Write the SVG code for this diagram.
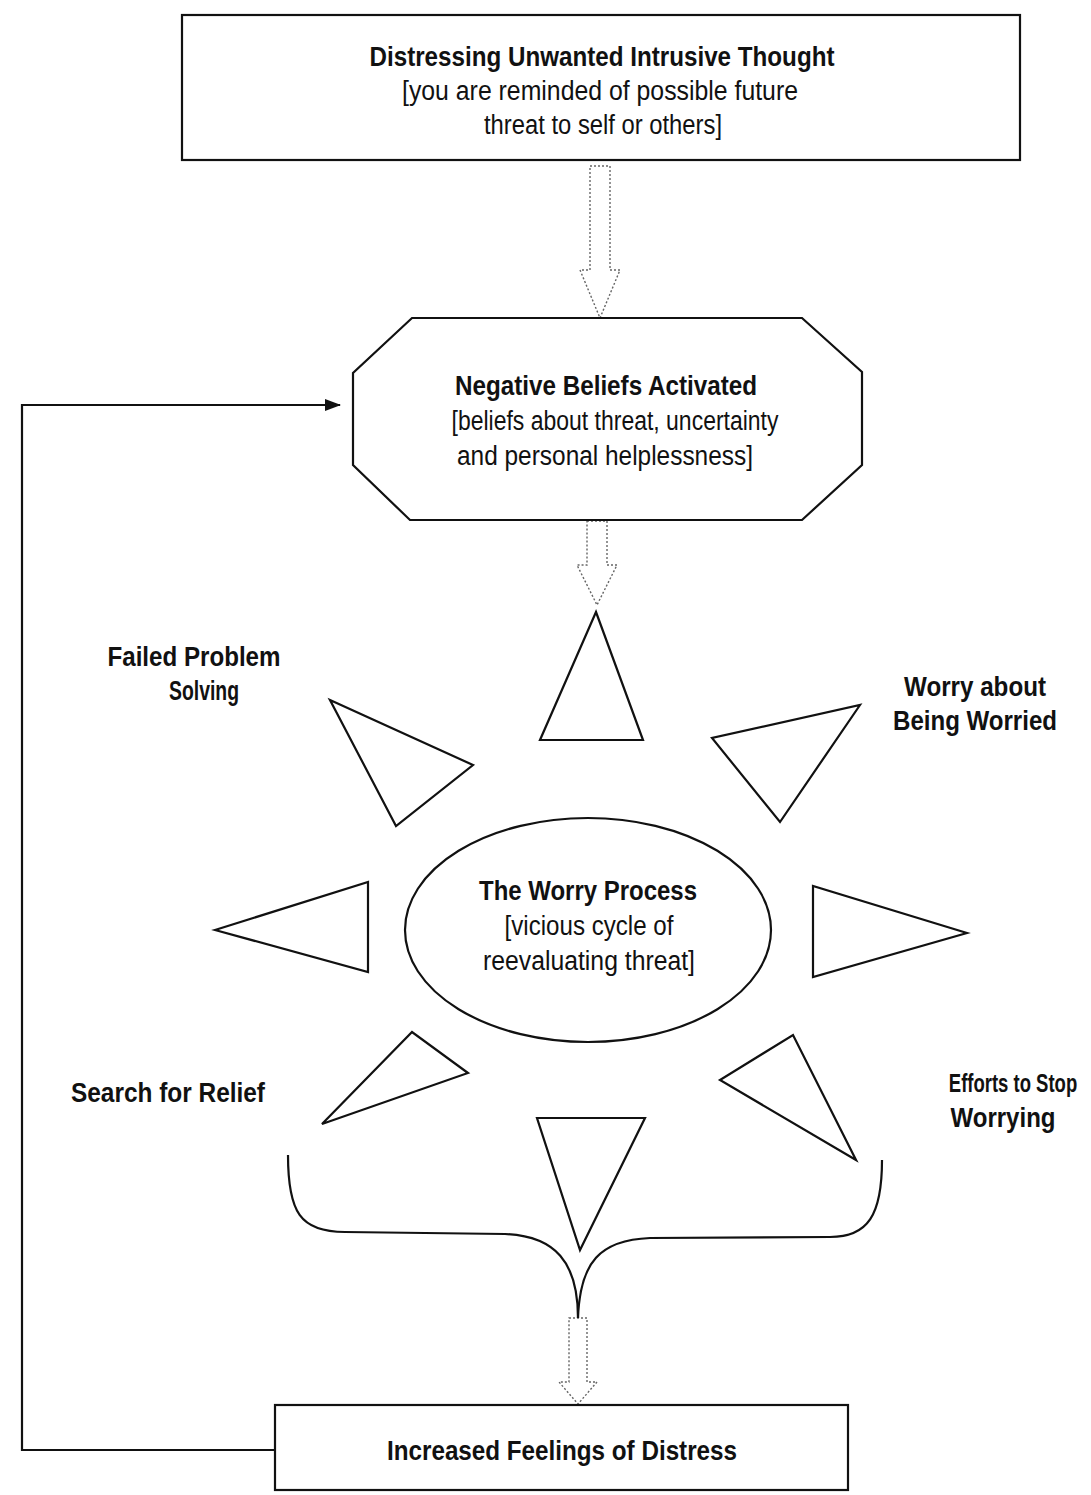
<svg xmlns="http://www.w3.org/2000/svg" width="1091" height="1495" viewBox="0 0 1091 1495">
<style>
.box{fill:#fff;stroke:#111;stroke-width:2.2}
.ray{fill:#fff;stroke:#111;stroke-width:2.2;stroke-linejoin:miter}
.b{font-family:"Liberation Sans",Arial,sans-serif;font-weight:bold;font-size:27px;fill:#111;text-anchor:middle}
.r{font-family:"Liberation Sans",Arial,sans-serif;font-size:27px;fill:#111;text-anchor:middle}
.dot{fill:#fff;stroke:#666;stroke-width:1.4;stroke-dasharray:2 2}
.line{fill:none;stroke:#111;stroke-width:2.2}
</style>
<defs>
<marker id="ah" markerWidth="16" markerHeight="12" refX="15" refY="6" orient="auto" markerUnits="userSpaceOnUse">
<path d="M0,0 L16,6 L0,12 Z" fill="#111"/>
</marker>
</defs>
<rect width="1091" height="1495" fill="#fff"/>

<g id="connectors">
<path class="dot" d="M590,166 L610,166 L610,270 L620,270 L600,318 L580,270 L590,270 Z"/>
<path class="dot" d="M587,521 L607,521 L607,565 L617,565 L597,605 L577,565 L587,565 Z"/>
<path class="dot" d="M569,1318 L587,1318 L587,1382 L597,1382 L578,1404 L559,1382 L569,1382 Z"/>
<polyline class="line" points="275,1450 22,1450 22,405 340,405" marker-end="url(#ah)"/>
<path id="brace" class="line" d="M288,1155 C288,1212 300,1232 345,1232 L505,1234 C555,1236 578,1262 578,1318"/>
<path class="line" d="M882,1160 C882,1215 868,1237 830,1237 L650,1238 C600,1240 580,1262 578,1318"/>
</g>

<g id="node-intrusive-thought">
<rect class="box" x="182" y="15" width="838" height="145"/>
<text class="b" x="602" y="66" textLength="465" lengthAdjust="spacingAndGlyphs">Distressing Unwanted Intrusive Thought</text>
<text class="r" x="600" y="100" textLength="396" lengthAdjust="spacingAndGlyphs">[you are reminded of possible future</text>
<text class="r" x="603" y="134" textLength="238" lengthAdjust="spacingAndGlyphs">threat to self or others]</text>
</g>

<g id="node-negative-beliefs">
<polygon class="box" points="412,318 802,318 862,372 862,465 802,520 410,520 353,465 353,373"/>
<text class="b" x="606" y="395" textLength="302" lengthAdjust="spacingAndGlyphs">Negative Beliefs Activated</text>
<text class="r" x="615" y="430" textLength="327" lengthAdjust="spacingAndGlyphs">[beliefs about threat, uncertainty</text>
<text class="r" x="605" y="465" textLength="296" lengthAdjust="spacingAndGlyphs">and personal helplessness]</text>
</g>

<g id="node-worry-process">
<ellipse class="box" cx="588" cy="930" rx="183" ry="112"/>
<text class="b" x="588" y="900" textLength="218" lengthAdjust="spacingAndGlyphs">The Worry Process</text>
<text class="r" x="589" y="935" textLength="169" lengthAdjust="spacingAndGlyphs">[vicious cycle of</text>
<text class="r" x="589" y="970" textLength="212" lengthAdjust="spacingAndGlyphs">reevaluating threat]</text>
</g>

<g id="rays">
<polygon class="ray" points="596,612 643,740 540,740"/>
<polygon class="ray" points="330,700 473,765 396,826"/>
<polygon class="ray" points="860,705 780,822 712,738"/>
<polygon class="ray" points="215,930 368,882 368,972"/>
<polygon class="ray" points="967,933 813,886 813,977"/>
<polygon class="ray" points="322,1124 412,1032 468,1073"/>
<polygon class="ray" points="856,1160 720,1080 793,1035"/>
<polygon class="ray" points="537,1118 645,1118 580,1250"/>
</g>

<g id="node-failed-problem-solving">
<text class="b" x="194" y="666" textLength="173" lengthAdjust="spacingAndGlyphs">Failed Problem</text>
<text class="b" x="204" y="700" textLength="70" lengthAdjust="spacingAndGlyphs">Solving</text>
</g>
<g id="node-worry-about-worried">
<text class="b" x="975" y="696" textLength="142" lengthAdjust="spacingAndGlyphs">Worry about</text>
<text class="b" x="975" y="730" textLength="164" lengthAdjust="spacingAndGlyphs">Being Worried</text>
</g>
<g id="node-search-relief">
<text class="b" x="168" y="1102" textLength="194" lengthAdjust="spacingAndGlyphs">Search for Relief</text>
</g>
<g id="node-efforts-stop">
<text class="b" transform="translate(1013,1092) scale(1,1.4)" x="0" y="0" style="font-size:18.5px">Efforts to Stop</text>
<text class="b" x="1003" y="1127" textLength="105" lengthAdjust="spacingAndGlyphs">Worrying</text>
</g>

<g id="node-increased-distress">
<rect class="box" x="275" y="1405" width="573" height="85"/>
<text class="b" x="562" y="1460" textLength="350" lengthAdjust="spacingAndGlyphs">Increased Feelings of Distress</text>
</g>
</svg>
